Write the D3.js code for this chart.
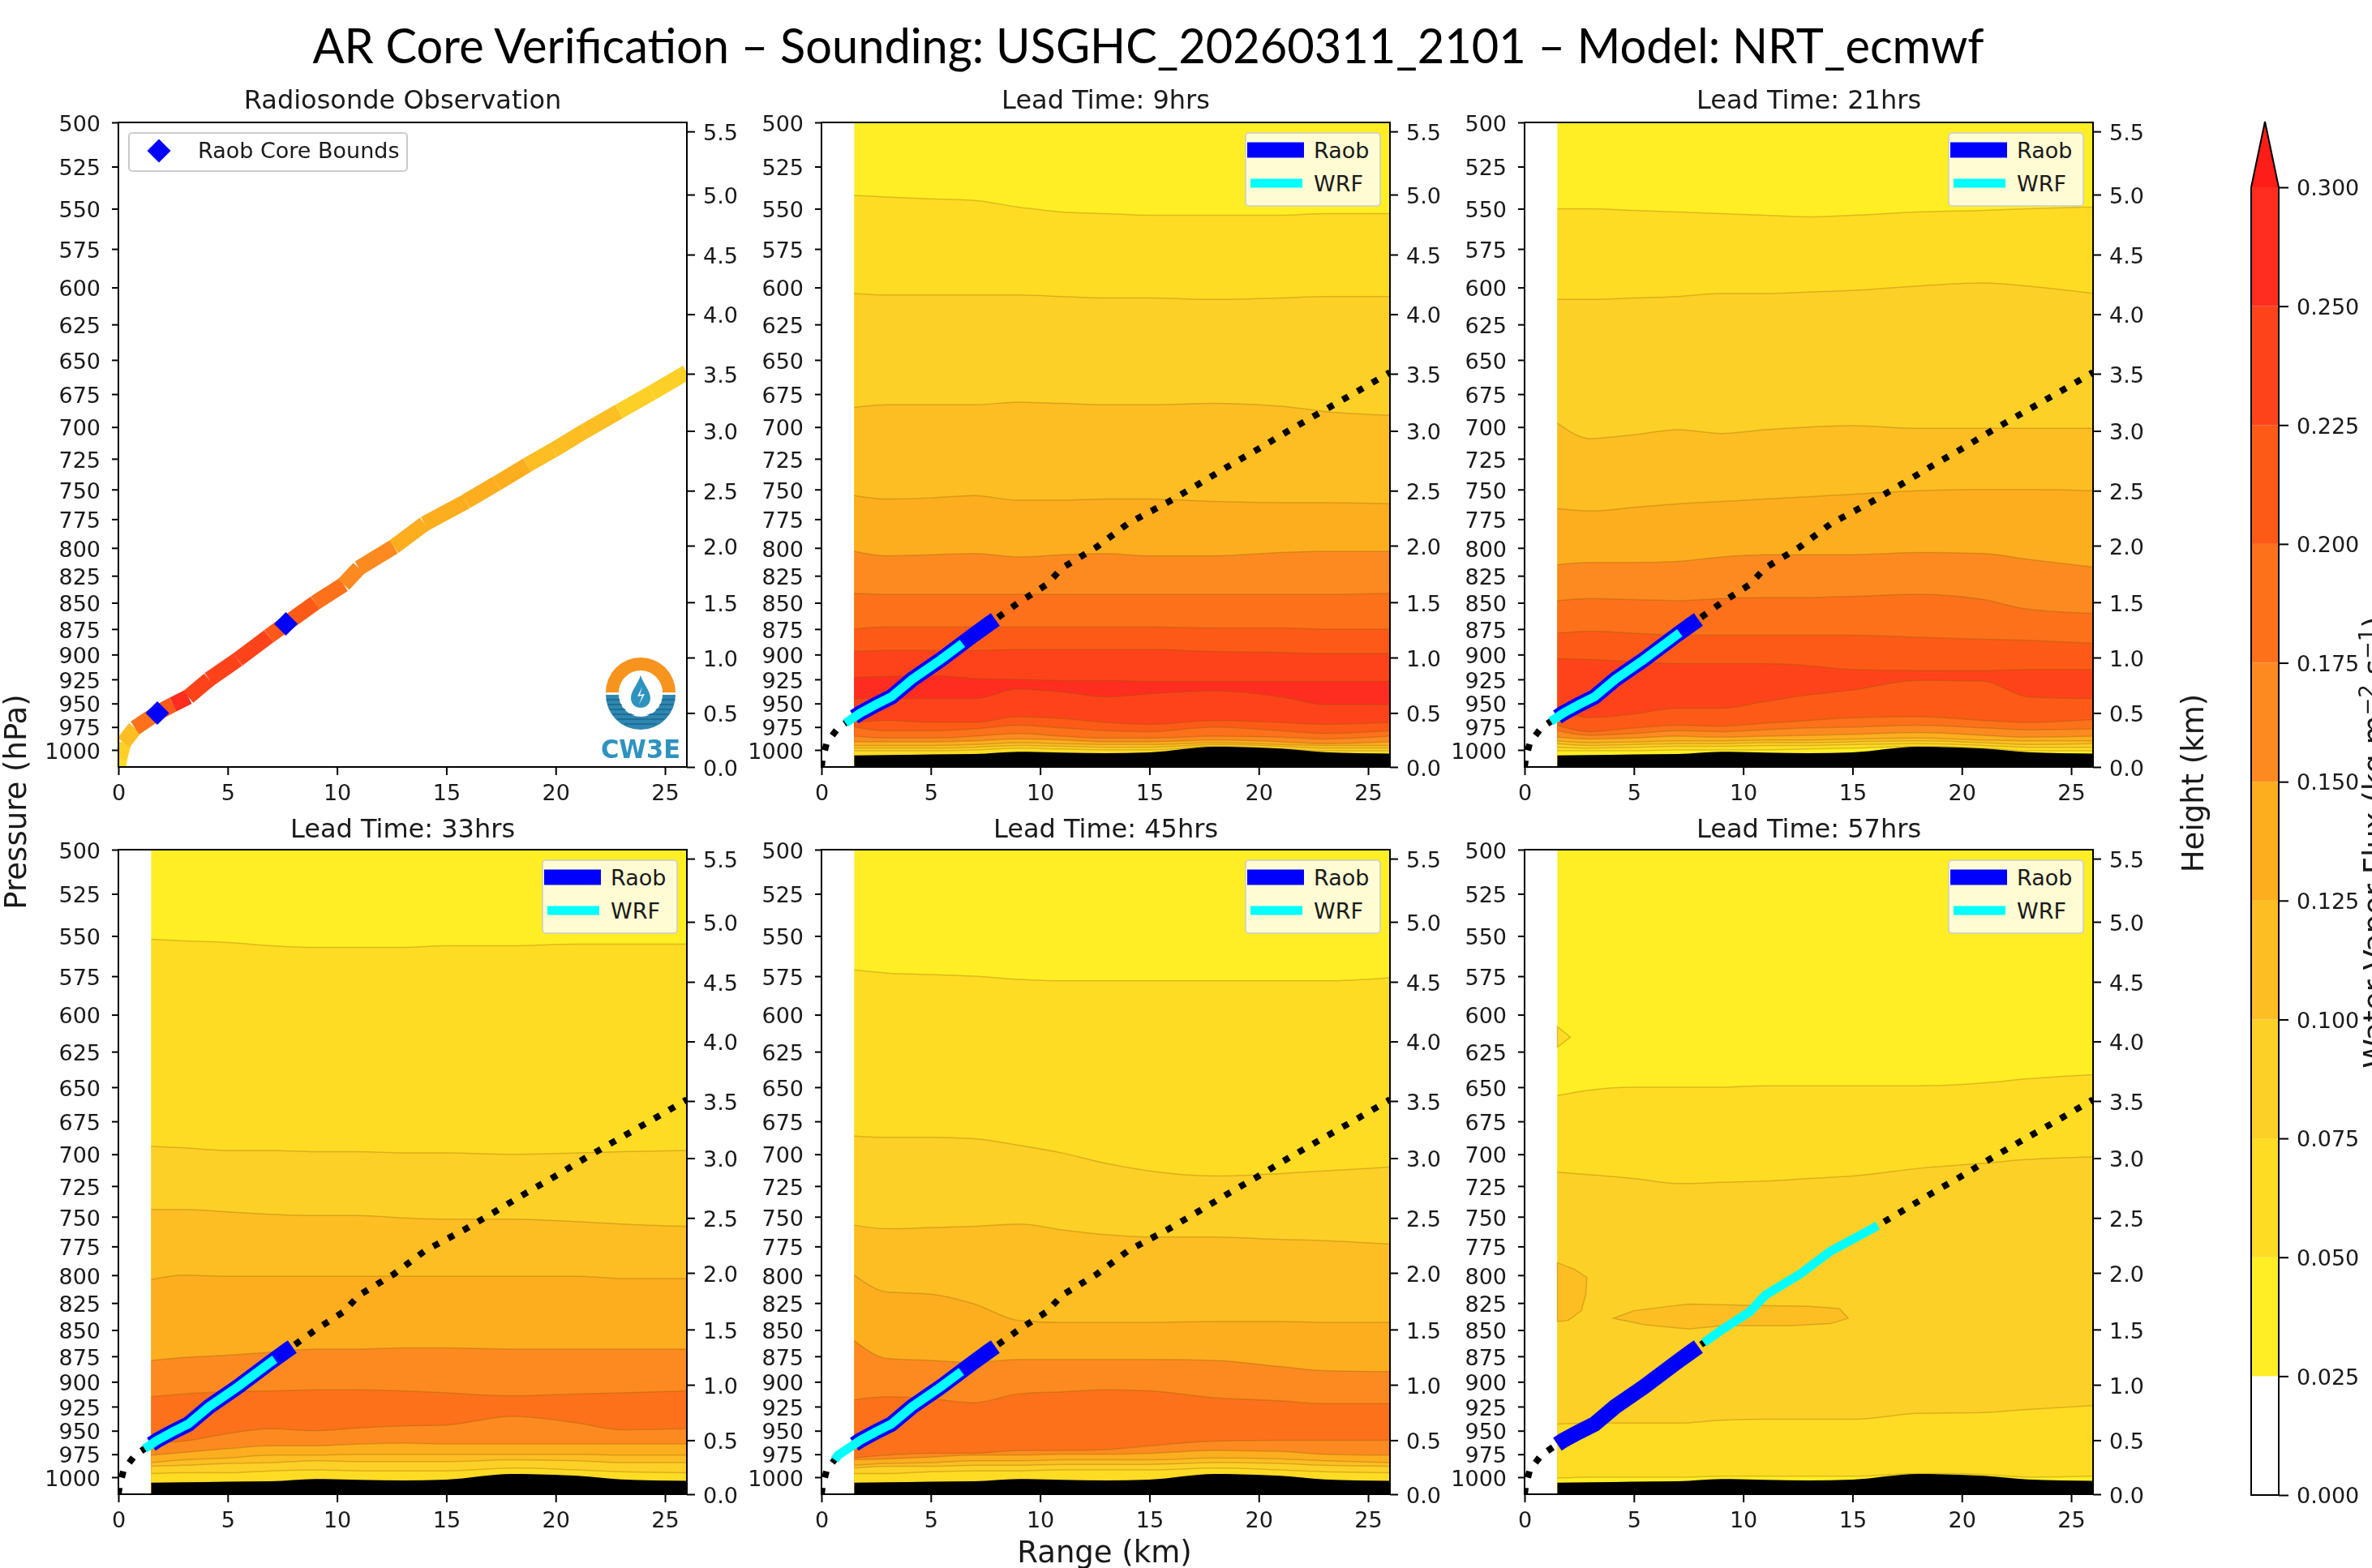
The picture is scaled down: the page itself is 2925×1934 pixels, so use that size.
<!DOCTYPE html>
<html>
<head>
<meta charset="utf-8">
<script src="https://cdn.jsdelivr.net/npm/d3@7"></script>
<style>
body { margin: 0; background: #fff; }
text { font-family: "DejaVu Sans"; fill: #1a1a1a; }
</style>
</head>
<body>
<script>
// flux levels and colours (colorbar), last colour is the extend arrow
const fluxLevels = [0, 0.025, 0.05, 0.075, 0.1, 0.125, 0.15, 0.175, 0.2, 0.225, 0.25, 0.3];
const fluxColors = ["#ffffff", "#ffee24", "#ffdc24", "#fdd027", "#fdbe23", "#fdae1f", "#fd8a20", "#fd711b", "#fd5a18", "#fe431b", "#fe2d20", "#ff1d17"];

const rangeTicks = [0, 5, 10, 15, 20, 25];
const pressureTicks = [500, 525, 550, 575, 600, 625, 650, 675, 700, 725, 750, 775, 800, 825, 850, 875, 900, 925, 950, 975, 1000];
const heightTicks = [0, 0.5, 1, 1.5, 2, 2.5, 3, 3.5, 4, 4.5, 5, 5.5];
const heightTickPressure = [1019, 960, 903, 849.5, 798, 751, 703, 660, 618, 578.6, 541.5, 505];

// sounding path, flux is the colour of the segment starting at that point
const soundRange = [0, 0.05, 0.24, 0.76, 1.78, 2.5, 3.2, 4.15, 5.46, 6.88, 7.66, 9, 10.3, 11, 12.6, 14, 15.9, 17.3, 18.7, 19.9, 21.35, 22.9, 24.4, 26];
const soundPressure = [1019, 1010, 992, 976, 960, 951, 943, 925, 905, 882, 870, 850, 833, 818, 799, 779, 760, 745, 730, 718, 703, 688, 674, 659];
const soundFlux = [0.06, 0.08, 0.11, 0.18, 0.21, 0.26, 0.24, 0.24, 0.24, 0.21, 0.21, 0.18, 0.16, 0.16, 0.13, 0.13, 0.13, 0.13, 0.11, 0.11, 0.11, 0.08, 0.08, 0.08];
const raobBounds = [1.78, 7.66];
const raobCore = [1.5, 7.95];

const gridRange = [1.5, 3, 5, 7, 9, 11, 13, 15, 18, 21, 23, 26];
const terrain = [1006, 1005.7, 1005, 1004.6, 1002, 1003, 1003.6, 1002.6, 996.4, 998.5, 1002.5, 1004];

// contours: [level of the band below the line, pressure along gridRange]
const contours9 = [
  [0.05, [542, 543, 544, 545, 549, 552, 553, 554, 554, 554, 553, 553]],
  [0.075, [604, 605, 605, 605, 605, 606, 607, 607, 608, 607, 606, 606]],
  [0.1, [685, 683, 683, 683, 681, 682, 683, 683, 682, 684, 688, 691]],
  [0.125, [755, 758, 757, 755, 759, 759, 758, 758, 760, 761, 761, 762]],
  [0.15, [803, 807, 806, 805, 808, 806, 805, 807, 807, 804, 803, 803]],
  [0.175, [841, 842, 842, 842, 842, 842, 842, 842, 842, 842, 842, 841]],
  [0.2, [875, 873, 873, 873, 873, 873, 873, 873, 874, 874, 875, 875]],
  [0.225, [897, 896, 896, 896, 895, 895, 895, 895, 897, 898, 899, 899]],
  [0.25, [923, 922, 921, 924, 925, 926, 926, 927, 927, 927, 927, 927]],
  [0.225, [945, 945, 945, 945, 935, 938, 943, 940, 937, 943, 951, 951]],
  [0.2, [970, 968, 970, 970, 964, 966, 970, 972, 968, 970, 972, 970]],
  [0.175, [975, 979, 979, 977, 973, 976, 979, 980, 975, 979, 982, 979]],
  [0.15, [985, 987, 987, 985, 982, 985, 987, 987, 985, 986, 988, 985]],
  [0.125, [991, 991, 991, 990, 988, 989, 991, 991, 989, 991, 993, 991]],
  [0.1, [995, 995, 995, 994, 992, 993, 994, 994, 992, 994, 995, 995]],
  [0.075, [998, 998, 998, 997, 995, 996, 997, 997, 994, 996, 998, 998]],
  [0.05, [1001, 1001, 1001, 1000, 998, 999, 1000, 1000, 996, 999, 1001, 1001]]
];
const contours21 = [
  [0.05, [550, 550, 551, 552, 553, 554, 555, 554, 552, 551, 550, 549]],
  [0.075, [608, 608, 607, 606, 604, 604, 603, 602, 599, 597, 599, 604]],
  [0.1, [697, 709, 706, 702, 705, 702, 700, 699, 701, 701, 701, 701]],
  [0.125, [766, 768, 765, 762, 760, 758, 756, 754, 751, 750, 750, 751]],
  [0.15, [815, 813, 813, 812, 808, 806, 806, 806, 804, 805, 810, 817]],
  [0.175, [848, 846, 847, 848, 846, 845, 845, 844, 842, 847, 856, 860]],
  [0.2, [879, 877, 879, 881, 881, 881, 881, 881, 883, 885, 886, 889]],
  [0.225, [904, 905, 907, 909, 909, 909, 911, 915, 916, 916, 915, 915]],
  [0.2, [955, 965, 961, 955, 955, 948, 941, 936, 926, 927, 943, 945]],
  [0.175, [973, 980, 976, 973, 974, 971, 968, 965, 964, 968, 970, 967]],
  [0.15, [979, 984, 982, 979, 980, 978, 976, 975, 973, 976, 978, 977]],
  [0.125, [986, 988, 987, 985, 986, 985, 984, 983, 981, 984, 986, 985]],
  [0.1, [990, 992, 991, 990, 990, 989, 989, 988, 987, 989, 990, 990]],
  [0.075, [993, 995, 994, 993, 993, 992, 992, 991, 990, 992, 994, 993]],
  [0.05, [997, 998, 997, 996, 996, 995, 995, 994, 993, 995, 997, 997]],
  [0.025, [1001, 1001, 1001, 1000, 1000, 1000, 999, 998, 996, 998, 1001, 1001]]
];
const contours33 = [
  [0.05, [552, 553, 554, 556, 557, 557, 557, 556, 556, 555, 555, 555]],
  [0.075, [694, 695, 697, 697, 698, 698, 699, 699, 700, 699, 698, 697]],
  [0.1, [744, 744, 746, 748, 749, 749, 751, 752, 752, 754, 756, 758]],
  [0.125, [804, 800, 801, 801, 801, 801, 801, 801, 801, 801, 803, 803]],
  [0.15, [879, 876, 874, 871, 868, 868, 867, 867, 868, 868, 868, 868]],
  [0.175, [915, 912, 910, 909, 908, 908, 909, 911, 914, 912, 911, 909]],
  [0.15, [963, 961, 953, 948, 950, 947, 945, 944, 935, 942, 949, 948]],
  [0.125, [976, 973, 969, 966, 966, 964, 963, 964, 964, 964, 964, 964]],
  [0.1, [984, 981, 979, 976, 976, 975, 975, 975, 975, 975, 976, 976]],
  [0.075, [988, 987, 985, 984, 982, 983, 983, 983, 981, 982, 984, 984]],
  [0.05, [996, 995, 995, 993, 992, 993, 993, 993, 990, 992, 994, 995]]
];
const contours45 = [
  [0.05, [571, 573, 574, 575, 577, 578, 578, 578, 578, 578, 578, 576]],
  [0.075, [686, 687, 687, 688, 693, 699, 707, 713, 717, 715, 713, 710]],
  [0.1, [757, 760, 759, 758, 756, 761, 765, 767, 767, 769, 770, 773]],
  [0.125, [800, 815, 817, 826, 841, 843, 843, 843, 842, 842, 843, 843]],
  [0.15, [860, 877, 879, 881, 878, 878, 878, 878, 879, 885, 889, 890]],
  [0.175, [918, 915, 917, 921, 912, 910, 908, 909, 916, 919, 922, 922]],
  [0.15, [979, 976, 974, 974, 971, 971, 970, 966, 961, 960, 960, 960]],
  [0.125, [981, 980, 978, 976, 976, 975, 975, 974, 971, 972, 975, 976]],
  [0.1, [987, 985, 984, 982, 982, 981, 981, 981, 979, 980, 982, 984]],
  [0.075, [990, 988, 988, 987, 987, 986, 986, 986, 984, 985, 987, 988]],
  [0.05, [996, 996, 994, 993, 993, 992, 992, 992, 990, 992, 994, 995]]
];
const contours57 = [
  [0.05, [656, 652, 650, 650, 650, 649, 649, 649, 649, 647, 644, 641]],
  [0.075, [714, 716, 719, 723, 722, 721, 719, 717, 711, 707, 704, 702]],
  [0.05, [943, 942, 942, 942, 939, 938, 938, 938, 932, 931, 928, 924]],
  [0.025, [1001, 1000, 1000, 1000, 999, 999, 999, 999, 996, 997, 1000, 999]]
];
// closed contour patches in the 57 hr panel: [level, ranges, pressures]
const patches57 = [
  [0.05, [1.5, 2.1, 1.5], [608, 615, 622]],
  [0.1, [1.5, 2.3, 2.85, 2.8, 2.6, 2.0, 1.5], [789, 795, 802, 817, 832, 841, 842]],
  [0.1, [4.06, 5, 7, 7.5, 10, 13, 14.4, 14.8, 14, 12, 9, 7.5, 5.5], [839, 832, 827, 826, 827, 828, 830, 839, 844, 846, 846, 849, 845]]
];

const panelTitles = ["Radiosonde Observation", "Lead Time: 9hrs", "Lead Time: 21hrs", "Lead Time: 33hrs", "Lead Time: 45hrs", "Lead Time: 57hrs"];
const panelContours = [null, contours9, contours21, contours33, contours45, contours57];
const panelPatches = [[], [], [], [], [], patches57];
const wrfStart = [null, 1.1, 1.2, 1.2, 0.6, 8.2];
const wrfEnd = [null, 6.45, 7.1, 7.15, 6.4, 16.15];

const mainTitle = "AR Core Verification \u2013 Sounding: USGHC_20260311_2101 \u2013 Model: NRT_ecmwf";

const W = 2925, H = 1934;
const axLeft = [146, 1013, 1880];
const axTop = [151, 1048];
const axW = 701, axH = 795;

const svg = d3.select("body").append("svg").attr("width", W).attr("height", H);
svg.append("rect").attr("width", W).attr("height", H).attr("fill", "#fff");

const defs = svg.append("defs");
defs.append("clipPath").attr("id", "axclip").append("rect").attr("width", axW).attr("height", axH);

const x = d3.scaleLinear().domain([0, 26]).range([0, axW]);
const yP = d3.scaleLog().domain([500, 1019]).range([0, axH]);
const yH = d3.scaleLinear().domain(heightTicks).range(heightTickPressure.map(yP));
const fluxColor = d3.scaleThreshold().domain(fluxLevels.slice(1)).range(fluxColors);
const pressureAt = d3.scaleLinear().domain(soundRange).range(soundPressure);

const pathLine = d3.line().x(d => x(d[0])).y(d => yP(d[1]));
const contourLine = d3.line().x(d => x(d[0])).y(d => yP(d[1])).curve(d3.curveMonotoneX);
const sounding = soundRange.map((r, i) => [r, soundPressure[i]]);

function soundingSlice(a, b) {
  return [[a, pressureAt(a)]].concat(sounding.filter(d => d[0] > a && d[0] < b), [[b, pressureAt(b)]]);
}

const chart = svg.append("g").style("filter", "blur(0.7px)");

function drawPanel(i) {
  const left = axLeft[i % 3], top = axTop[Math.floor(i / 3)];
  const g = chart.append("g").attr("transform", `translate(${left},${top})`);
  const plot = g.append("g").attr("clip-path", "url(#axclip)");

  if (panelContours[i]) {
    // bands are painted top down, each one fills from its line to the axis bottom
    plot.append("rect")
      .attr("x", x(gridRange[0])).attr("width", axW - x(gridRange[0]))
      .attr("height", axH).attr("fill", fluxColor(0.025));
    const band = d3.area().x(d => x(d[0])).y0(axH).y1(d => yP(d[1])).curve(d3.curveMonotoneX);
    panelContours[i].forEach(c => {
      const pts = gridRange.map((r, k) => [r, c[1][k]]);
      plot.append("path").attr("d", band(pts)).attr("fill", fluxColor(c[0] + 0.001));
      plot.append("path").attr("d", contourLine(pts)).attr("fill", "none")
        .attr("stroke", "#8a5a00").attr("stroke-opacity", 0.3).attr("stroke-width", 1.5);
    });
    panelPatches[i].forEach(p => {
      const pts = p[1].map((r, k) => [r, p[2][k]]);
      plot.append("path").attr("d", pathLine(pts) + "Z").attr("fill", fluxColor(p[0] + 0.001))
        .attr("stroke", "#8a5a00").attr("stroke-opacity", 0.3).attr("stroke-width", 1.5);
    });
    plot.append("path").attr("d", band(gridRange.map((r, k) => [r, terrain[k]]))).attr("fill", "#000");

    plot.append("path").attr("d", pathLine(sounding)).attr("fill", "none")
      .attr("stroke", "#000").attr("stroke-width", 8).attr("stroke-dasharray", "8 13");
    plot.append("path").attr("d", pathLine(soundingSlice(raobCore[0], raobCore[1]))).attr("fill", "none")
      .attr("stroke", "#0000ff").attr("stroke-width", 19);
    plot.append("path").attr("d", pathLine(soundingSlice(wrfStart[i], wrfEnd[i]))).attr("fill", "none")
      .attr("stroke", "#00ffff").attr("stroke-width", 11);

    const lx = axW - 178, ly = 13;
    g.append("rect").attr("x", lx).attr("y", ly).attr("width", 166).attr("height", 90).attr("rx", 4)
      .attr("fill", "#fff").attr("fill-opacity", 0.8).attr("stroke", "#ccc").attr("stroke-opacity", 0.8).attr("stroke-width", 2);
    g.append("line").attr("x1", lx + 2).attr("x2", lx + 72).attr("y1", ly + 21).attr("y2", ly + 21)
      .attr("stroke", "#0000ff").attr("stroke-width", 19);
    g.append("line").attr("x1", lx + 6).attr("x2", lx + 70).attr("y1", ly + 62).attr("y2", ly + 62)
      .attr("stroke", "#00ffff").attr("stroke-width", 11);
    g.append("text").attr("x", lx + 84).attr("y", ly + 31).attr("font-size", 27).text("Raob");
    g.append("text").attr("x", lx + 84).attr("y", ly + 72).attr("font-size", 27).text("WRF");
  } else {
    // observation panel: coloured sounding, core bounds, legend, logo
    sounding.slice(0, -1).forEach((d, k) => {
      plot.append("path").attr("d", pathLine([d, sounding[k + 1]])).attr("fill", "none")
        .attr("stroke", fluxColor(soundFlux[k])).attr("stroke-width", 19);
    });
    const diamond = d3.symbol().type(d3.symbolSquare).size(420);
    raobBounds.forEach(r => {
      plot.append("path").attr("d", diamond())
        .attr("transform", `translate(${x(r)},${yP(pressureAt(r))}) rotate(45)`).attr("fill", "#0000ff");
    });
    g.append("rect").attr("x", 13).attr("y", 13).attr("width", 343).attr("height", 47).attr("rx", 4)
      .attr("fill", "#fff").attr("stroke", "#ccc").attr("stroke-width", 2);
    g.append("path").attr("d", diamond()).attr("transform", "translate(50,35) rotate(45)").attr("fill", "#0000ff");
    g.append("text").attr("x", 98).attr("y", 44).attr("font-size", 27).text("Raob Core Bounds");
    drawLogo(g);
  }

  // axes
  const xAxis = d3.axisBottom(x).tickValues(rangeTicks).tickSize(10).tickPadding(12);
  const leftAxis = d3.axisLeft(yP).tickValues(pressureTicks).tickFormat(d3.format("d")).tickSize(8).tickPadding(14);
  const rightAxis = d3.axisRight(yH).tickValues(heightTicks).tickFormat(d3.format(".1f")).tickSize(10).tickPadding(10);
  const gx = g.append("g").attr("transform", `translate(0,${axH})`).call(xAxis);
  const gl = g.append("g").call(leftAxis);
  const gr = g.append("g").attr("transform", `translate(${axW},0)`).call(rightAxis);
  [gx, gl, gr].forEach(a => {
    a.select(".domain").remove();
    a.selectAll("line").attr("stroke", "#000").attr("stroke-width", 2);
    a.selectAll("text").attr("font-size", 27).attr("font-family", "DejaVu Sans").attr("fill", "#1a1a1a");
  });
  gl.selectAll("text").attr("dy", "0.38em");
  gr.selectAll("text").attr("dy", "0.38em");
  g.append("rect").attr("width", axW).attr("height", axH).attr("fill", "none").attr("stroke", "#000").attr("stroke-width", 2);

  g.append("text").attr("x", axW / 2).attr("y", i < 3 ? -17 : -15).attr("text-anchor", "middle").attr("font-size", 32).text(panelTitles[i]);
}

function drawLogo(g) {
  // CW3E mark, sits in the lower right corner of the observation panel
  const logo = g.append("g").attr("transform", `translate(${axW - 57},${axH - 91})`);
  const arc = d3.arc().innerRadius(27).outerRadius(43);
  logo.append("path").attr("d", arc({ startAngle: -Math.PI / 2, endAngle: Math.PI / 2 }))
    .attr("transform", "translate(0,-1)").attr("fill", "#f7941d");
  logo.append("path").attr("d", arc({ startAngle: Math.PI / 2, endAngle: 1.5 * Math.PI }))
    .attr("transform", "translate(0,2)").attr("fill", "#2e87b0");
  [8, 14, 20, 26, 32, 38].forEach(d => {
    logo.append("line").attr("x1", -Math.sqrt(Math.max(43 * 43 - d * d, 0))).attr("x2", Math.sqrt(Math.max(43 * 43 - d * d, 0)))
      .attr("y1", d).attr("y2", d).attr("stroke", "#1f6e96").attr("stroke-width", 2);
  });
  logo.append("circle").attr("r", 27).attr("cy", 1).attr("fill", "#fff");
  logo.append("path").attr("d", "M0,-22 C3,-12 12,-3 12,6 C12,14 6,18 0,18 C-6,18 -12,14 -12,6 C-12,-3 -3,-12 0,-22Z").attr("fill", "#2e93be");
  logo.append("path").attr("d", "M2,-8 L-4,4 L2,3 L-2,14 L5,1 L-1,2 Z").attr("fill", "#fff");
  logo.append("text").attr("x", 0).attr("y", 80).attr("text-anchor", "middle").attr("font-size", 32)
    .attr("font-weight", "bold").attr("textLength", 98).attr("lengthAdjust", "spacingAndGlyphs")
    .style("fill", "#2e93be").text("CW3E");
}

panelTitles.forEach((t, i) => drawPanel(i));

// colorbar
const cbX = 2776, cbW = 34, cbTop = 231, cbBottom = 1844, cbTip = 150;
const cbScale = d3.scalePoint().domain(fluxLevels).range([cbBottom, cbTop]);
const cb = chart.append("g");
fluxLevels.slice(0, -1).forEach((lv, i) => {
  cb.append("rect").attr("x", cbX).attr("width", cbW)
    .attr("y", cbScale(fluxLevels[i + 1])).attr("height", cbScale(lv) - cbScale(fluxLevels[i + 1]))
    .attr("fill", fluxColors[i]);
});
cb.append("path").attr("d", `M${cbX},${cbTop} L${cbX + cbW / 2},${cbTip} L${cbX + cbW},${cbTop} Z`).attr("fill", fluxColors[11]);
cb.append("path").attr("d", `M${cbX},${cbTop} L${cbX + cbW / 2},${cbTip} L${cbX + cbW},${cbTop} L${cbX + cbW},${cbBottom} L${cbX},${cbBottom} Z`)
  .attr("fill", "none").attr("stroke", "#000").attr("stroke-width", 2);
const cbAxis = cb.append("g").attr("transform", `translate(${cbX + cbW},0)`)
  .call(d3.axisRight(cbScale).tickFormat(d3.format(".3f")).tickSize(12).tickPadding(10));
cbAxis.select(".domain").remove();
cbAxis.selectAll("line").attr("stroke", "#000").attr("stroke-width", 2);
cbAxis.selectAll("text").attr("font-size", 27).attr("font-family", "DejaVu Sans").attr("fill", "#1a1a1a").attr("dy", "0.36em");

// shared labels
chart.append("text").attr("transform", "translate(32,989) rotate(-90)").attr("text-anchor", "middle").attr("font-size", 37).text("Pressure (hPa)");
chart.append("text").attr("x", 1362).attr("y", 1927).attr("text-anchor", "middle").attr("font-size", 37).text("Range (km)");
chart.append("text").attr("transform", "translate(2717,966) rotate(-90)").attr("text-anchor", "middle").attr("font-size", 37).text("Height (km)");
// this label runs past the right edge of the figure, as in the source
const flux = chart.append("text").attr("transform", "translate(2941,1039) rotate(-90)").attr("text-anchor", "middle").attr("font-size", 37);
flux.append("tspan").text("Water Vapor Flux (kg m");
flux.append("tspan").attr("dy", -13).attr("font-size", 26).text("\u22122");
flux.append("tspan").attr("dy", 13).text(" s");
flux.append("tspan").attr("dy", -13).attr("font-size", 26).text("\u22121");
flux.append("tspan").attr("dy", 13).text(")");

svg.append("text").attr("x", 1416).attr("y", 78).attr("text-anchor", "middle")
  .style("font-family", "Lato").style("fill", "#000").attr("font-size", 60)
  .attr("textLength", 2061).attr("lengthAdjust", "spacingAndGlyphs").text(mainTitle);
</script>
</body>
</html>
